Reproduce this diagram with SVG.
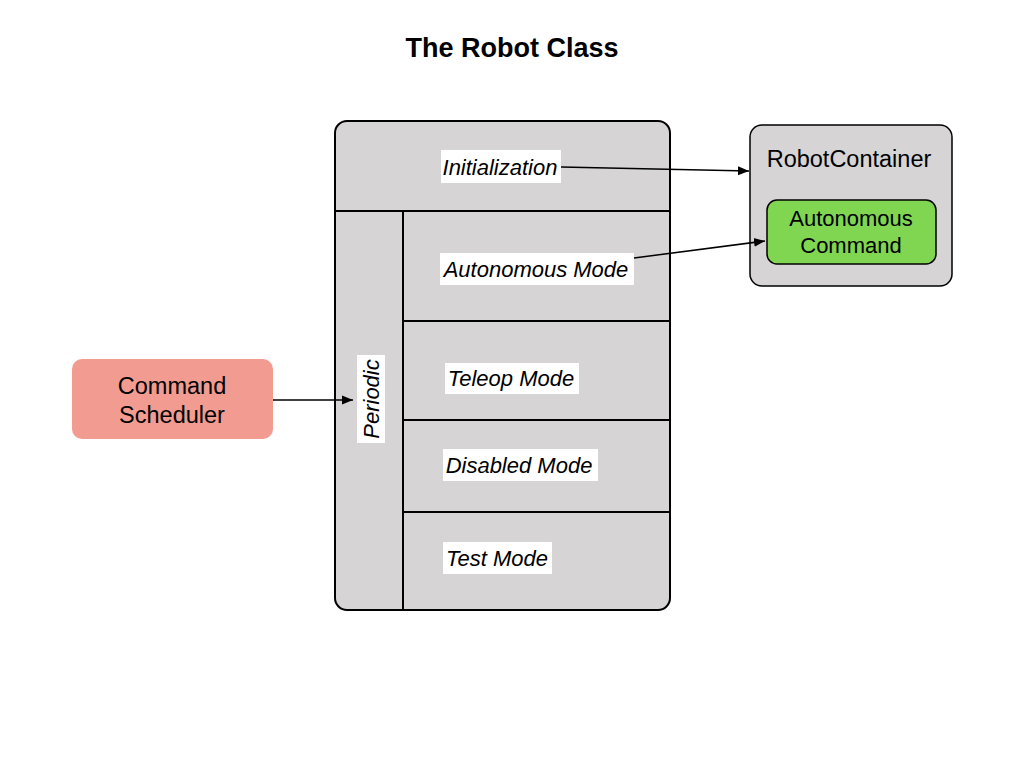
<svg xmlns="http://www.w3.org/2000/svg" width="1024" height="768" viewBox="0 0 1024 768">
<defs>
<marker id="arr" viewBox="0 0 10 10" refX="10" refY="5" markerWidth="11" markerHeight="11" markerUnits="userSpaceOnUse" orient="auto">
<path d="M0,1 L10,5 L0,9 Z" fill="#000"/>
</marker>
<style>
text{font-family:"Liberation Sans",Arial,sans-serif;fill:#000}
.it{font-style:italic;font-size:22px}
.lbl{fill:#fff}
.box{fill:#d6d4d5;stroke:#000;stroke-width:2}
.ln{stroke:#000;stroke-width:2;fill:none}
.conn{stroke:#000;stroke-width:1.5;fill:none;marker-end:url(#arr)}
</style>
</defs>
<rect width="1024" height="768" fill="#fff"/>
<text x="512" y="57" text-anchor="middle" font-size="27" font-weight="bold">The Robot Class</text>

<g id="robot-class">
<rect class="box" x="335" y="121" width="335" height="489" rx="12"/>
<line class="ln" x1="335" y1="211" x2="670" y2="211"/>
<line class="ln" x1="403" y1="211" x2="403" y2="610"/>
<line class="ln" x1="403" y1="321" x2="670" y2="321"/>
<line class="ln" x1="403" y1="420" x2="670" y2="420"/>
<line class="ln" x1="403" y1="512" x2="670" y2="512"/>
</g>
<g id="initialization">
<rect class="lbl" x="441" y="150" width="120" height="33"/>
<text class="it" x="500" y="175" text-anchor="middle">Initialization</text>
</g>
<g id="autonomous-mode">
<rect class="lbl" x="440" y="253" width="194" height="32"/>
<text class="it" x="536" y="277" text-anchor="middle">Autonomous Mode</text>
</g>
<g id="teleop-mode">
<rect class="lbl" x="445" y="363" width="134" height="31"/>
<text class="it" x="511" y="386" text-anchor="middle">Teleop Mode</text>
</g>
<g id="disabled-mode">
<rect class="lbl" x="443" y="449" width="155" height="32"/>
<text class="it" x="519" y="473" text-anchor="middle">Disabled Mode</text>
</g>
<g id="test-mode">
<rect class="lbl" x="443" y="542" width="109" height="32"/>
<text class="it" x="497" y="566" text-anchor="middle">Test Mode</text>
</g>
<g id="periodic">
<rect class="lbl" x="357" y="355" width="28" height="88"/>
<text class="it" transform="translate(379,399) rotate(-90)" text-anchor="middle">Periodic</text>
</g>

<g id="command-scheduler">
<rect x="72" y="359" width="201" height="80" rx="10" fill="#f29b91"/>
<text x="172" y="394" text-anchor="middle" font-size="23.5">Command</text>
<text x="172" y="423" text-anchor="middle" font-size="23.5">Scheduler</text>
</g>

<g id="robot-container">
<rect x="750" y="125" width="202" height="161" rx="12" fill="#d6d4d5" stroke="#000" stroke-width="1.5"/>
<text x="849" y="167" text-anchor="middle" font-size="23.5">RobotContainer</text>
</g>
<g id="autonomous-command">
<rect x="767" y="200" width="169" height="64" rx="10" fill="#80d651" stroke="#000" stroke-width="1.5"/>
<text x="851" y="226" text-anchor="middle" font-size="22">Autonomous</text>
<text x="851" y="253" text-anchor="middle" font-size="22">Command</text>
</g>

<g id="connectors">
<line class="conn" x1="561" y1="167" x2="749" y2="171"/>
<line class="conn" x1="634" y1="258" x2="765" y2="241"/>
<line class="conn" x1="273" y1="400" x2="353" y2="400"/>
</g>
</svg>
